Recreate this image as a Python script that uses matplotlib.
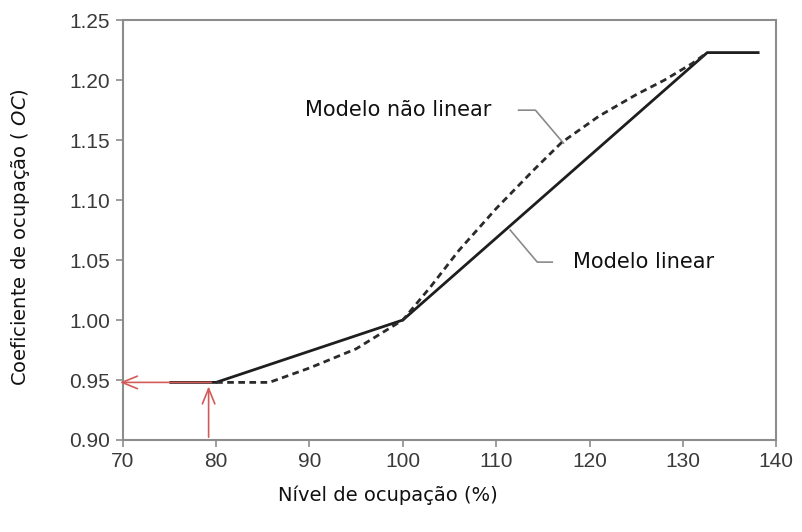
import matplotlib
matplotlib.use("Agg")
import matplotlib.pyplot as plt

plt.rcParams['font.family'] = ['Liberation Sans', 'DejaVu Sans']
plt.rcParams['mathtext.fontset'] = 'custom'
plt.rcParams['mathtext.it'] = 'DejaVu Sans:italic'
plt.rcParams['mathtext.rm'] = 'DejaVu Sans'

# ===== DATA =====
linear_x = [75, 80, 100, 132.6, 138.2]
linear_y = [0.948, 0.948, 1.000, 1.223, 1.223]

nonlinear_x = [80, 85.7, 90, 95, 100, 103, 106, 110, 114, 117, 121, 125, 128, 131, 132.6]
nonlinear_y = [0.948, 0.948, 0.960, 0.976, 1.000, 1.028, 1.058, 1.093, 1.125, 1.148, 1.170, 1.188, 1.200, 1.214, 1.223]

xticks = [70, 80, 90, 100, 110, 120, 130, 140]
yticks = [0.90, 0.95, 1.00, 1.05, 1.10, 1.15, 1.20, 1.25]

# reading example: 80 % occupation -> OC = 0.95
read_x = 79.2
read_y = 0.948

label_font = 'DejaVu Sans'

fig = plt.figure(figsize=(8.02, 5.32), dpi=100)
ax = fig.add_axes([0.153, 0.173, 0.815, 0.789])

ax.plot(linear_x, linear_y, color='#1e1e1e', lw=2.0, solid_capstyle='butt', zorder=3)
ax.plot(nonlinear_x, nonlinear_y, color='#2a2a2a', lw=2.0, ls=(0, (2.4, 1.6)), zorder=3)

# red reading arrows
red = '#d45a5a'
head = '->,head_length=1.1,head_width=0.45'
ax.annotate('', xy=(69.4, read_y), xytext=(read_x + 0.6, read_y),
            arrowprops=dict(arrowstyle=head, color=red, lw=1.2),
            annotation_clip=False, zorder=4)
ax.annotate('', xy=(read_x, read_y - 0.001), xytext=(read_x, 0.90),
            arrowprops=dict(arrowstyle=head, color=red, lw=1.2),
            annotation_clip=False, zorder=4)

# leader lines and labels
ax.plot([112.4, 114.2, 117.2], [1.175, 1.175, 1.1475], color='#8a8a8a', lw=1.2)
ax.text(89.5, 1.175, 'Modelo não linear', fontsize=15, family=label_font,
        va='center', ha='left', color='#111111')
ax.plot([111.5, 114.4, 116.0], [1.075, 1.0483, 1.0483], color='#8a8a8a', lw=1.2)
ax.text(118.2, 1.0483, 'Modelo linear', fontsize=15, family=label_font,
        va='center', ha='left', color='#111111')

ax.set_xlim(70, 140)
ax.set_ylim(0.90, 1.25)
ax.set_xticks(xticks)
ax.set_yticks(yticks)
ax.set_yticklabels([f'{v:.2f}' for v in yticks])

for s in ax.spines.values():
    s.set_color('#8c8c8c')
    s.set_linewidth(1.5)
ax.tick_params(axis='both', direction='out', length=5, width=1.2, color='#8c8c8c',
               labelcolor='#3a3a3a', labelsize=15, pad=4)

fig.text(0.484, 0.07, 'Nível de ocupação (%)', fontsize=14, family=label_font,
         ha='center', va='center', color='#111111')
fig.text(0.026, 0.555, r'Coeficiente de ocupação ( $\mathit{OC}$)', fontsize=14,
         family=label_font, rotation=90, ha='center', va='center', color='#111111')

plt.savefig('out.png', dpi=100, facecolor='white')
